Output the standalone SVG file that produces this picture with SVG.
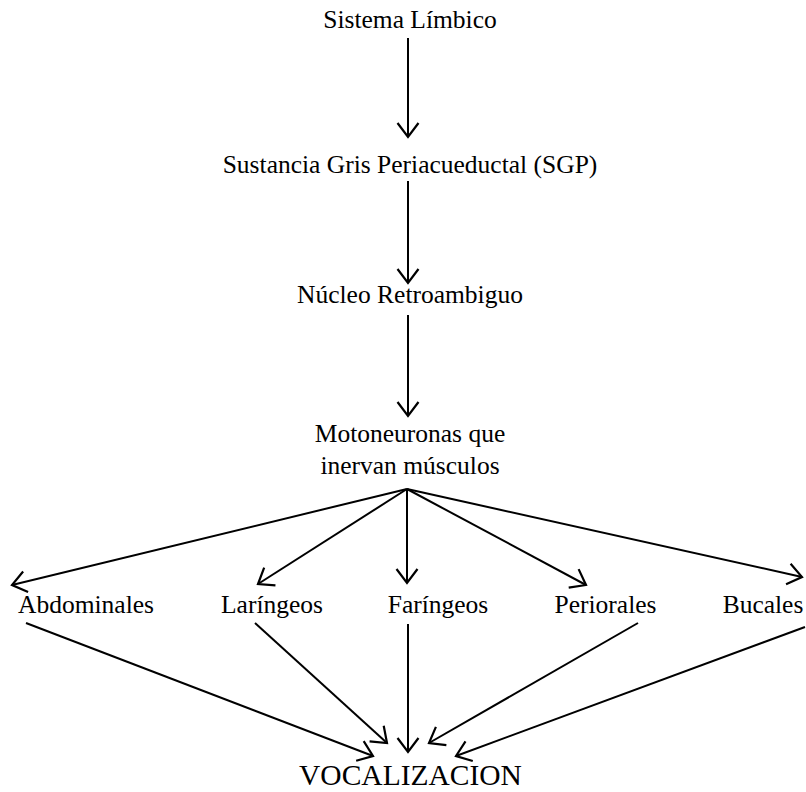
<svg xmlns="http://www.w3.org/2000/svg" width="806" height="792" viewBox="0 0 806 792">
<style>
text{font-family:"Liberation Serif","Times New Roman",serif;font-size:25.5px;fill:#000;text-anchor:middle}
.big{font-size:29.5px}
.c line{stroke:#000;stroke-width:2;fill:none}
</style>
<defs>
<marker id="ah" markerUnits="userSpaceOnUse" markerWidth="40" markerHeight="40" viewBox="-20 -20 40 40" refX="0" refY="0" orient="auto" overflow="visible">
<path d="M-14,-10.5 L0,0 L-14,10.5" fill="none" stroke="#000" stroke-width="2.2" stroke-linejoin="miter"/>
</marker>
</defs>
<rect width="806" height="792" fill="#fff"/>
<g id="n1"><text x="410" y="28">Sistema Límbico</text></g>
<g id="n2"><text x="410" y="173">Sustancia Gris Periacueductal (SGP)</text></g>
<g id="n3"><text x="410" y="303">Núcleo Retroambiguo</text></g>
<g id="n4"><text x="410" y="442">Motoneuronas que</text><text x="410" y="474">inervan músculos</text></g>
<g id="n5"><text x="86" y="613">Abdominales</text></g>
<g id="n6"><text x="272" y="613">Laríngeos</text></g>
<g id="n7"><text x="438" y="613">Faríngeos</text></g>
<g id="n8"><text x="605.5" y="613">Periorales</text></g>
<g id="n9"><text x="763" y="613">Bucales</text></g>
<g id="n10"><text class="big" x="410.5" y="785">VOCALIZACION</text></g>
<g class="c" id="connectors">
<line x1="408" y1="38" x2="408" y2="137" marker-end="url(#ah)"/>
<line x1="408" y1="181" x2="408" y2="283" marker-end="url(#ah)"/>
<line x1="408" y1="315" x2="408" y2="416" marker-end="url(#ah)"/>
<line x1="407" y1="489" x2="12" y2="585" marker-end="url(#ah)"/>
<line x1="407" y1="489" x2="258" y2="584" marker-end="url(#ah)"/>
<line x1="407" y1="489" x2="407" y2="583" marker-end="url(#ah)"/>
<line x1="407" y1="489" x2="586" y2="585" marker-end="url(#ah)"/>
<line x1="407" y1="489" x2="802" y2="577" marker-end="url(#ah)"/>
<line x1="26" y1="623" x2="373" y2="756" marker-end="url(#ah)"/>
<line x1="255" y1="623" x2="387" y2="743" marker-end="url(#ah)"/>
<line x1="408" y1="624" x2="408" y2="752" marker-end="url(#ah)"/>
<line x1="638" y1="623" x2="429" y2="743" marker-end="url(#ah)"/>
<line x1="805" y1="627" x2="456" y2="756" marker-end="url(#ah)"/>
</g>
</svg>
